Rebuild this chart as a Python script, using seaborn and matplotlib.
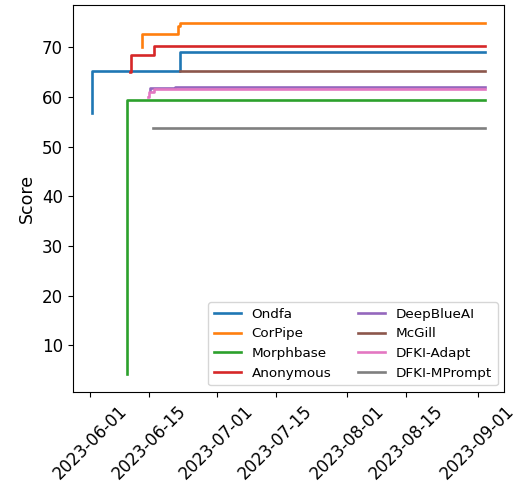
import matplotlib
matplotlib.use("Agg")
import matplotlib.pyplot as plt
import matplotlib.dates as mdates
import pandas as pd
import seaborn as sns

END = "2023-09-02 16:00"

teams = ["Ondfa", "CorPipe", "Morphbase", "Anonymous",
         "DeepBlueAI", "McGill", "DFKI-Adapt", "DFKI-MPrompt"]

ondfa_t = ["2023-06-01 11:00", "2023-06-01 12:00", "2023-06-22 07:00", END]
ondfa_v = [56.7, 65.2, 69.0, 69.0]

corpipe_t = ["2023-06-13 06:00", "2023-06-13 07:00", "2023-06-21 17:00", "2023-06-22 07:00", END]
corpipe_v = [70.0, 72.7, 74.4, 75.0, 75.0]

morph_t = ["2023-06-09 17:00", "2023-06-09 18:00", END]
morph_v = [4.1, 59.5, 59.5]

anon_t = ["2023-06-10 12:00", "2023-06-10 13:00", "2023-06-16 00:00", "2023-06-19 12:00", END]
anon_v = [65.0, 68.5, 70.2, 70.3, 70.3]

deepblue_t = ["2023-06-15 05:00", "2023-06-15 06:00", "2023-06-21 05:00", END]
deepblue_v = [61.2, 61.9, 62.1, 62.1]

mcgill_t = ["2023-06-22 07:00", END]
mcgill_v = [65.3, 65.3]

adapt_t = ["2023-06-14 19:00", "2023-06-14 20:00", "2023-06-16 00:00", END]
adapt_v = [60.0, 61.0, 61.7, 61.7]

mprompt_t = ["2023-06-15 20:00", END]
mprompt_v = [53.8, 53.8]

series = [(ondfa_t, ondfa_v), (corpipe_t, corpipe_v), (morph_t, morph_v),
          (anon_t, anon_v), (deepblue_t, deepblue_v), (mcgill_t, mcgill_v),
          (adapt_t, adapt_v), (mprompt_t, mprompt_v)]

rows = []
for name, (ts, vs) in zip(teams, series):
    for t, v in zip(ts, vs):
        rows.append({"Date": pd.Timestamp(t), "Score": v, "Team": name})
df = pd.DataFrame(rows)

fig = plt.figure(figsize=(5.27, 4.99), dpi=100)
ax = fig.add_axes([72.7 / 527, 1 - 392 / 499, (504.3 - 72.7) / 527, (392 - 5) / 499])

sns.lineplot(data=df, x="Date", y="Score", hue="Team", hue_order=teams,
             estimator=None, drawstyle="steps-post", linewidth=1.9,
             palette="tab10", ax=ax)

ax.xaxis.set_major_locator(mdates.DayLocator(bymonthday=[1, 15]))
ax.xaxis.set_major_formatter(mdates.DateFormatter("%Y-%m-%d"))
for lab in ax.get_xticklabels():
    lab.set_rotation(45)
    lab.set_ha("center")
ax.tick_params(axis="both", labelsize=12)
ax.set_xlabel("")
ax.set_ylabel("Score", fontsize=12.5)
ax.set_yticks([10, 20, 30, 40, 50, 60, 70])

ax.legend(loc="lower right", ncol=2, fontsize=9.7, title=None)

fig.savefig("out.png", dpi=100)
